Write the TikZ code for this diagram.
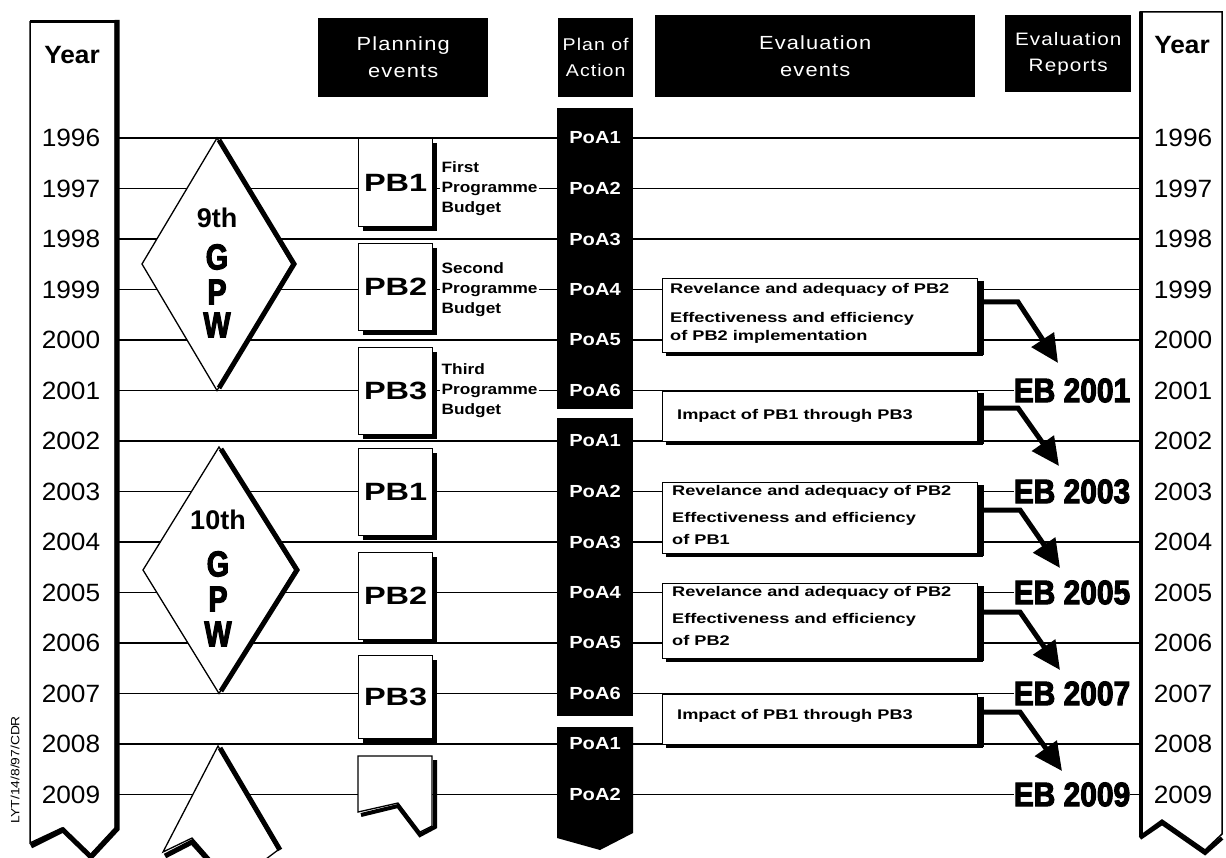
\documentclass[tikz,border=0pt]{standalone}
\usepackage{fontspec}
\setmainfont{Liberation Sans}
\newfontfamily\yrfont[FakeStretch=1.05]{Liberation Sans}
\newfontfamily\pbfont[FakeStretch=1.3]{Liberation Sans}
\newfontfamily\smfont[FakeStretch=1.15]{Liberation Sans}
\newfontfamily\evfont[FakeStretch=1.3]{Liberation Sans}
\newfontfamily\hdfont[FakeStretch=1.15,LetterSpace=6]{Liberation Sans}
\newfontfamily\ebfont[FakeStretch=0.88,BoldFeatures={FakeBold=3}]{Liberation Sans}
\newfontfamily\gpwfont[FakeStretch=0.8,BoldFeatures={FakeBold=3}]{Liberation Sans}
\usetikzlibrary{arrows.meta}
\newcommand\pbshadow[1]{\draw[line width=4pt] ([shift={(2pt,-5pt)}]#1.north east) -- ([shift={(2pt,-2pt)}]#1.south east) -- ([shift={(5pt,-2pt)}]#1.south west);}
\newcommand\evshadow[1]{\draw[line width=6pt] ([shift={(3pt,-3pt)}]#1.north east) -- ([shift={(3pt,-1.5pt)}]#1.south east); \draw[line width=3pt] ([shift={(4pt,-1.5pt)}]#1.south west) -- ([shift={(5pt,-1.5pt)}]#1.south east);}
\begin{document}
\begin{tikzpicture}[x=1pt,y=-1pt,
  yline/.style={line width=1.4pt},
  hdr/.style={fill=black, text=white, inner sep=0pt, align=center, anchor=north west, font=\hdfont\fontsize{19}{27}\selectfont},
  yearlbl/.style={inner sep=0pt, font=\yrfont\fontsize{25}{25}\selectfont},
  yearhd/.style={inner sep=0pt, font=\yrfont\bfseries\fontsize{25}{25}\selectfont},
  poalbl/.style={text=white, inner sep=0pt, font=\smfont\bfseries\fontsize{17.5}{17.5}\selectfont},
  pbbox/.style={draw, line width=1.3pt, fill=white, minimum width=74pt, anchor=north west, inner sep=0pt, font=\pbfont\bfseries\fontsize{25}{25}\selectfont},
  pbtext/.style={fill=white, anchor=west, align=left, inner sep=1.5pt, font=\smfont\bfseries\fontsize{15}{20}\selectfont},
  evbox/.style={draw, line width=1.3pt, fill=white, anchor=north west, minimum width=315pt, inner sep=0pt},
  evtext/.style={anchor=west, inner sep=0pt, font=\evfont\bfseries\fontsize{14}{14}\selectfont},
  eblbl/.style={inner sep=0pt, font=\ebfont\bfseries\fontsize{34}{34}\selectfont},
  gpw/.style={inner sep=0pt, font=\gpwfont\bfseries\fontsize{36}{36}\selectfont},
  ord/.style={inner sep=0pt, font=\bfseries\fontsize{27}{27}\selectfont},
  bigarrow/.style={line width=5pt, -{Triangle[length=28pt,width=26pt]}},
  diam/.style={line width=1.3pt, fill=white, line join=miter},
  dshadow/.style={line width=5pt, line join=miter}
]
\useasboundingbox (0,0) rectangle (1226,858);

% ---------- year columns ----------
\draw[line width=1.5pt, fill=white] (30,22) -- (115,22) -- (115,828) -- (90,855) -- (62,828) -- (30,843) -- cycle;
\draw[line width=3pt] (30,22) -- (117,22);
\draw[line width=5pt, line join=miter] (117,20) -- (117,829) -- (91,857) -- (63,830) -- (31,846);
\draw[line width=1.5pt, fill=white] (1140,12) -- (1222,12) -- (1222,834) -- (1205,850) -- (1162,820) -- (1140,836) -- cycle;
\draw[line width=4pt] (1141,12) -- (1141,836);
\draw[line width=4pt, line join=miter] (1140,838) -- (1162,823) -- (1205,853) -- (1222,838);

\node[yearhd] (yhL) at (72,55) {Year};
\node[yearhd] (yhR) at (1182,45) {Year};
\foreach \yr [count=\i from 0] in {1996,...,2009}{
  \pgfmathsetmacro\yy{138+50.5*\i}
  \coordinate (L\yr) at (115,\yy);
  \coordinate (R\yr) at (1140,\yy);
  \node[yearlbl] (yl\yr) at (71,\yy) {\yr};
  \node[yearlbl] (yr\yr) at (1183,\yy) {\yr};
}

% ---------- evaluation reports ----------
\coordinate (ebX) at (1072,0);
\foreach \yr in {2001,2003,2005,2007,2009}{
  \node[eblbl] (EB\yr) at (ebX |- L\yr) {EB \yr};
}

% ---------- year lines ----------
\foreach \yr in {1996,1997,1998,1999,2000,2002,2004,2006,2008}{
  \draw[yline] (L\yr) -- (R\yr);
}
\foreach \yr in {2001,2003,2005,2007,2009}{
  \draw[yline] (L\yr) -- (EB\yr.west);
}
\draw[yline] (EB2009.east) -- (R2009);

% ---------- GPW diamonds ----------
\draw[diam] (217,138) -- (292,264) -- (217,390.5) -- (142,264) -- cycle;
\draw[dshadow] (219,140) -- (294,264) -- (219,388);
\node[ord] (g9) at (217,218) {9th};
\node[gpw] (g9G) at (217,257) {G};
\node[gpw] (g9P) at (217,292) {P};
\node[gpw] (g9W) at (217,325) {W};

\draw[diam] (219,447) -- (295,570) -- (219,693.5) -- (143,570) -- cycle;
\draw[dshadow] (221,449) -- (297,570) -- (221,691);
\node[ord] (g10) at (218,520) {10th};
\node[gpw] (g10G) at (218,564) {G};
\node[gpw] (g10P) at (218,599) {P};
\node[gpw] (g10W) at (218,634) {W};

\draw[diam] (218,746) -- (278,850) -- (262,862) -- (213,862) -- (192,838) -- (163,852) -- cycle;
\draw[dshadow] (220,748) -- (280,850);
\draw[dshadow] (165,856) -- (192,842) -- (210,862);

% ---------- programme budgets ----------
\node[pbbox, minimum height=88pt] (pb1a) at (358,138) {PB1};
\node[pbbox, minimum height=87pt] (pb2a) at (358,243) {PB2};
\node[pbbox, minimum height=87pt] (pb3a) at (358,347) {PB3};
\node[pbbox, minimum height=87pt] (pb1b) at (358,448) {PB1};
\node[pbbox, minimum height=87pt] (pb2b) at (358,552) {PB2};
\node[pbbox, minimum height=83pt] (pb3b) at (358,655) {PB3};
\foreach \b in {pb1a,pb2a,pb3a,pb1b,pb2b,pb3b}{
  \pbshadow{\b}
}
\draw[line width=1.3pt, fill=white] (358,756) -- (432,756) -- (432,826) -- (420,832) -- (398,803) -- (358,812) -- cycle;
\draw[line width=4pt, line join=miter] (435,760) -- (435,827) -- (420,835) -- (398,806) -- (361,815);

\coordinate (pbtX) at (440,0);
\node[pbtext] (pbt1) at (pbtX |- L1997) {First\\Programme\\Budget};
\node[pbtext] (pbt2) at (pbtX |- L1999) {Second\\Programme\\Budget};
\node[pbtext] (pbt3) at (pbtX |- L2001) {Third\\Programme\\Budget};

% ---------- plan of action ----------
\fill (557,108) rectangle (633,409);
\fill (557,418) rectangle (633,716);
\fill (557,727) -- (633,727) -- (633,833) -- (600,850) -- (557,838) -- cycle;
\coordinate (poaX) at (595,0);
\foreach \yr/\n in {1996/1,1997/2,1998/3,1999/4,2000/5,2001/6,2002/1,2003/2,2004/3,2005/4,2006/5,2007/6,2008/1,2009/2}{
  \node[poalbl] (poa\yr) at (poaX |- L\yr) {PoA\n};
}

% ---------- evaluation events ----------
\node[evbox, minimum height=74pt] (bA) at (662,278) {};
\node[evbox, minimum height=50.5pt] (bI1) at (662,390.5) {};
\node[evbox, minimum height=71pt] (bC) at (662,482) {};
\node[evbox, minimum height=75pt] (bD) at (662,583) {};
\node[evbox, minimum height=50.5pt] (bI2) at (662,693.5) {};
\foreach \b in {bA,bI1,bC,bD,bI2}{
  \evshadow{\b}
}

\node[evtext] (tA1) at (670,289.5) {Revelance and adequacy of PB2};
\node[evtext] (tA2) at (670,319) {Effectiveness and efficiency};
\node[evtext] (tA3) at (670,337) {of PB2 implementation};
\node[evtext] (tI1) at (677,416) {Impact of PB1 through PB3};
\node[evtext] (tC1) at (672,491.5) {Revelance and adequacy of PB2};
\node[evtext] (tC2) at (672,519) {Effectiveness and efficiency};
\node[evtext] (tC3) at (672,539) {of PB1};
\node[evtext] (tD1) at (672,592.5) {Revelance and adequacy of PB2};
\node[evtext] (tD2) at (672,620) {Effectiveness and efficiency};
\node[evtext] (tD3) at (672,640) {of PB2};
\node[evtext] (tI2) at (677,716) {Impact of PB1 through PB3};

% ---------- arrows to evaluation reports ----------
\coordinate (kA) at (1018,302);   \coordinate (tipA) at (1058,363);
\coordinate (kI1) at (1018,408);  \coordinate (tipI1) at (1059,466);
\coordinate (kC) at (1020,510);   \coordinate (tipC) at (1060,568);
\coordinate (kD) at (1020,612);   \coordinate (tipD) at (1060,670);
\coordinate (kI2) at (1020,712);  \coordinate (tipI2) at (1062,771);
\draw[bigarrow] (bA.east |- kA) -- (kA) -- (tipA);
\draw[bigarrow] (bI1.east |- kI1) -- (kI1) -- (tipI1);
\draw[bigarrow] (bC.east |- kC) -- (kC) -- (tipC);
\draw[bigarrow] (bD.east |- kD) -- (kD) -- (tipD);
\draw[bigarrow] (bI2.east |- kI2) -- (kI2) -- (tipI2);

% ---------- headers ----------
\node[hdr, minimum width=170pt, minimum height=79pt] (hPlan) at (318,18) {Planning\\events};
\node[hdr, minimum width=75pt, minimum height=79pt, font=\hdfont\fontsize{17}{26}\selectfont] (hPoA) at (558,18) {Plan of\\Action};
\node[hdr, minimum width=320pt, minimum height=82pt] (hEval) at (655,15) {Evaluation\\events};
\node[hdr, minimum width=126pt, minimum height=77pt, font=\hdfont\fontsize{18}{26}\selectfont] (hRep) at (1005,15) {Evaluation\\Reports};

% ---------- reference code ----------
\node[rotate=90, inner sep=0pt, font=\smfont\fontsize{12}{12}\selectfont] (lyt) at (15,770) {LYT/14/8/97/CDR};
\end{tikzpicture}
\end{document}
